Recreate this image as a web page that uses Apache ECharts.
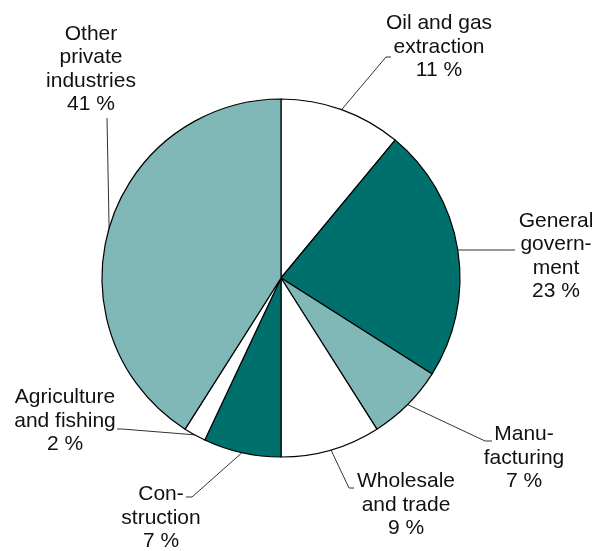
<!DOCTYPE html>
<html>
<head>
<meta charset="utf-8">
<script src="https://cdn.jsdelivr.net/npm/echarts@6/dist/echarts.min.js"></script>
<style>
  html, body { margin: 0; padding: 0; background: #ffffff; }
  #chart { width: 597px; height: 551px; }
</style>
</head>
<body>
<div id="chart"></div>
<script>
// Share of value added by industry, clockwise from 12 o'clock
var categories = [
  'Oil and gas\nextraction',
  'General\ngovern-\nment',
  'Manu-\nfacturing',
  'Wholesale\nand trade',
  'Con-\nstruction',
  'Agriculture\nand fishing',
  'Other\nprivate\nindustries'
];
var shares = [11, 23, 7, 9, 7, 2, 41];

var DARK = '#00706c', LIGHT = '#80b8b8', WHITE = '#ffffff';
var fills = [WHITE, DARK, LIGHT, WHITE, DARK, WHITE, LIGHT];

// Label placement: block centre and leader-line bends (page pixels)
var labelSpots = [
  { x: 439, y: 47,  bends: [[386, 57], [391, 57]] },
  { x: 556, y: 256, bends: [[515, 250]] },
  { x: 524, y: 458, bends: [[485, 441], [492, 441]] },
  { x: 406, y: 505, bends: [[349, 488], [354, 488]] },
  { x: 161, y: 518, bends: [[192, 497], [186, 497]] },
  { x: 65,  y: 421, bends: [[122, 429], [117, 429]] },
  { x: 91,  y: 69,  bends: [[107, 118]] }
];

var chart = echarts.init(document.getElementById('chart'), null, { renderer: 'canvas' });

chart.setOption({
  animation: false,
  backgroundColor: '#ffffff',
  series: [{
    type: 'pie',
    center: [281, 278],
    radius: 179,
    startAngle: 90,
    clockwise: true,
    avoidLabelOverlap: false,
    data: categories.map(function (name, i) {
      return { name: name, value: shares[i], itemStyle: { color: fills[i] } };
    }),
    itemStyle: { borderColor: '#000000', borderWidth: 1.2 },
    emphasis: { disabled: true },
    label: {
      show: true,
      position: 'outside',
      formatter: function (p) { return p.name + '\n' + p.value + ' %'; },
      fontFamily: 'Liberation Sans, Arial, sans-serif',
      fontSize: 21,
      lineHeight: 23.5,
      color: '#111111',
      align: 'center'
    },
    labelLine: {
      show: true,
      length: 10,
      length2: 10,
      lineStyle: { color: '#333333', width: 1 }
    },
    labelLayout: function (params) {
      var s = labelSpots[params.dataIndex];
      var start = params.labelLinePoints ? params.labelLinePoints[0] : null;
      var out = { x: s.x, y: s.y, align: 'center', verticalAlign: 'middle' };
      if (start) {
        out.labelLinePoints = [start].concat(s.bends);
      }
      return out;
    }
  }]
});
</script>
</body>
</html>
